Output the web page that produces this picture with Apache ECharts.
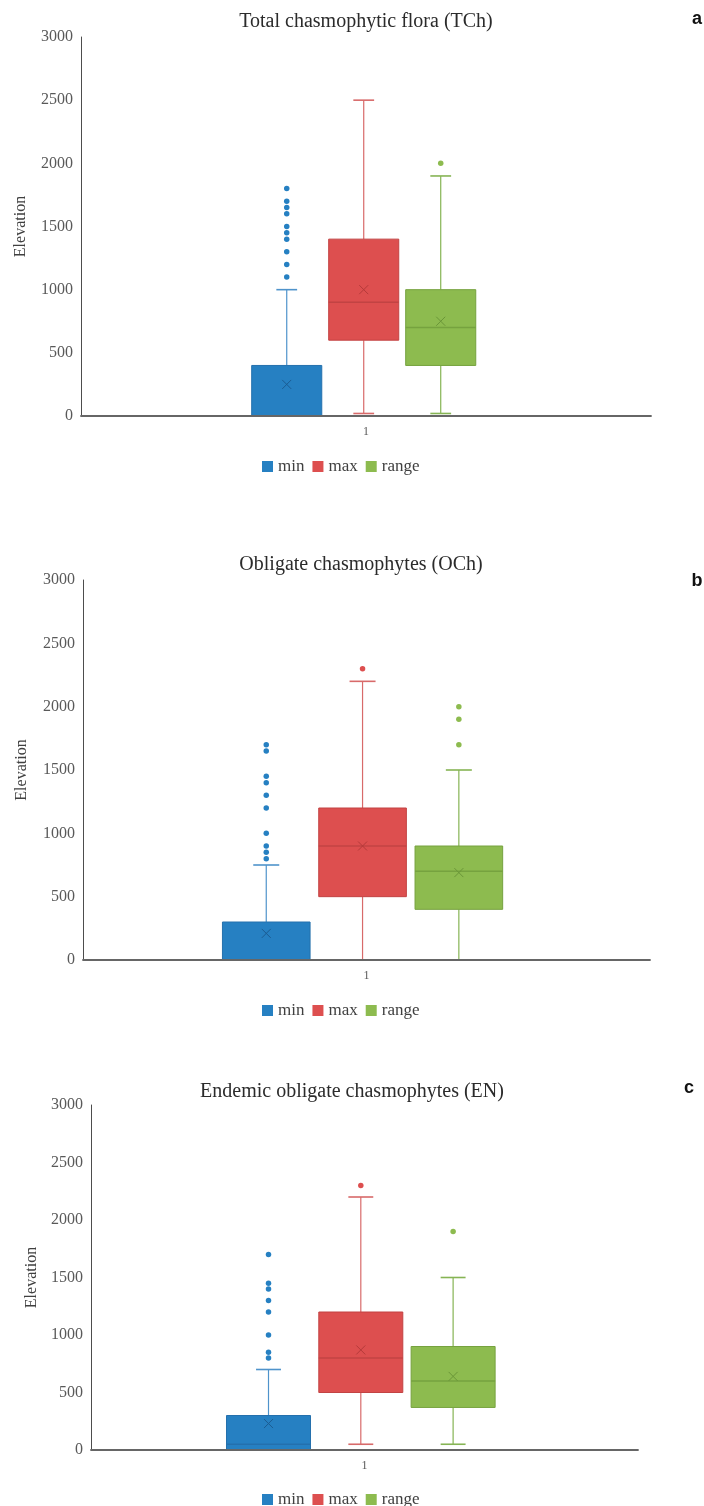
<!DOCTYPE html>
<html>
<head>
<meta charset="utf-8">
<script src="https://cdn.jsdelivr.net/npm/echarts@6/dist/echarts.min.js"></script>
<style>
  html, body { margin: 0; padding: 0; background: #ffffff; }
  #chart { width: 704px; height: 1506px; }
</style>
</head>
<body>
<div id="chart"></div>
<script>
// ---- data -------------------------------------------------------------
const groups = ['min', 'max', 'range'];
const categories = ['1'];
const yTicks = [0, 500, 1000, 1500, 2000, 2500, 3000];

// five-number summaries: [lower whisker, Q1, median, Q3, upper whisker]
// Total chasmophytic flora (TCh)
const tchMin   = [0, 0, 0, 400, 1000];
const tchMax   = [20, 600, 900, 1400, 2500];
const tchRange = [20, 400, 700, 1000, 1900];
const tchMeans = [250, 1000, 750];
const tchMinOut   = [1100, 1200, 1300, 1400, 1450, 1500, 1600, 1650, 1700, 1800];
const tchMaxOut   = [];
const tchRangeOut = [2000];

// Obligate chasmophytes (OCh)
const ochMin   = [0, 0, 0, 300, 750];
const ochMax   = [0, 500, 900, 1200, 2200];
const ochRange = [0, 400, 700, 900, 1500];
const ochMeans = [210, 900, 690];
const ochMinOut   = [800, 850, 900, 1000, 1200, 1300, 1400, 1450, 1650, 1700];
const ochMaxOut   = [2300];
const ochRangeOut = [1700, 1900, 2000];

// Endemic obligate chasmophytes (EN)
const enMin   = [0, 0, 50, 300, 700];
const enMax   = [50, 500, 800, 1200, 2200];
const enRange = [50, 370, 600, 900, 1500];
const enMeans = [230, 870, 640];
const enMinOut   = [800, 850, 1000, 1200, 1300, 1400, 1450, 1700];
const enMaxOut   = [2300];
const enRangeOut = [1900];

// ---- styling & layout -----------------------------------------------
const SERIF = 'Liberation Serif';
const COLORS = {
  min:   { fill: '#2680c2', edge: '#2470ad', whisker: '#4f93cb', mark: '#1b5c92' },
  max:   { fill: '#dd4f4f', edge: '#c24343', whisker: '#d86a6a', mark: '#b53a3a' },
  range: { fill: '#8dbb4f', edge: '#76a23f', whisker: '#86b454', mark: '#6a9638' }
};
const BOX_W = 0.91;   // box width in slot units
const CAP_W = 0.27;   // whisker cap width in slot units

const panels = [
  {
    title: 'Total chasmophytic flora (TCh)', tag: 'a',
    boxes: [tchMin, tchMax, tchRange], means: tchMeans,
    outliers: [tchMinOut, tchMaxOut, tchRangeOut],
    grid: { left: 81, top: 37, width: 570, height: 379 },
    slotRange: [-3.672, 3.731], nameGap: 52,
    titlePos: [366, 12], tagPos: [697, 10], legendTop: 453
  },
  {
    title: 'Obligate chasmophytes (OCh)', tag: 'b',
    boxes: [ochMin, ochMax, ochRange], means: ochMeans,
    outliers: [ochMinOut, ochMaxOut, ochRangeOut],
    grid: { left: 83, top: 580, width: 567, height: 380 },
    slotRange: [-2.903, 2.985], nameGap: 53,
    titlePos: [361, 555], tagPos: [697, 572], legendTop: 997
  },
  {
    title: 'Endemic obligate chasmophytes (EN)', tag: 'c',
    boxes: [enMin, enMax, enRange], means: enMeans,
    outliers: [enMinOut, enMaxOut, enRangeOut],
    grid: { left: 91, top: 1105, width: 547, height: 345 },
    slotRange: [-2.923, 3.003], nameGap: 50,
    titlePos: [352, 1082], tagPos: [689, 1079], legendTop: 1486
  }
];

// ---- box renderer ------------------------------------------------------
function makeBoxRenderer(col) {
  return function (params, api) {
    const x = api.value(0);
    const lo = api.value(1), q1 = api.value(2), med = api.value(3);
    const q3 = api.value(4), hi = api.value(5), mean = api.value(6);
    const tl = api.coord([x - BOX_W / 2, q3]);
    const br = api.coord([x + BOX_W / 2, q1]);
    const cx = api.coord([x, med])[0];
    const yMed = api.coord([x, med])[1];
    const yLo = api.coord([x, lo])[1];
    const yHi = api.coord([x, hi])[1];
    const capL = api.coord([x - CAP_W / 2, hi])[0];
    const capR = api.coord([x + CAP_W / 2, hi])[0];
    const m = api.coord([x, mean]);
    const k = 4.5;
    const wStyle = { stroke: col.whisker, lineWidth: 1.2 };
    const children = [
      { type: 'line', shape: { x1: cx, y1: yHi, x2: cx, y2: tl[1] }, style: wStyle },
      { type: 'line', shape: { x1: cx, y1: br[1], x2: cx, y2: yLo }, style: wStyle },
      { type: 'line', shape: { x1: capL, y1: yHi, x2: capR, y2: yHi }, style: { stroke: col.whisker, lineWidth: 1.6 } },
      { type: 'line', shape: { x1: capL, y1: yLo, x2: capR, y2: yLo }, style: { stroke: col.whisker, lineWidth: 1.6 } },
      { type: 'rect', shape: { x: tl[0], y: tl[1], width: br[0] - tl[0], height: br[1] - tl[1] },
        style: { fill: col.fill, stroke: col.edge, lineWidth: 1 } },
      { type: 'line', shape: { x1: tl[0], y1: yMed, x2: br[0], y2: yMed }, style: { stroke: col.edge, lineWidth: 1.5 } },
      { type: 'line', shape: { x1: m[0] - k, y1: m[1] - k, x2: m[0] + k, y2: m[1] + k }, style: { stroke: col.mark, lineWidth: 1 } },
      { type: 'line', shape: { x1: m[0] - k, y1: m[1] + k, x2: m[0] + k, y2: m[1] - k }, style: { stroke: col.mark, lineWidth: 1 } }
    ];
    return { type: 'group', children: children };
  };
}

// ---- option assembly ----------------------------------------------------
const option = {
  animation: false,
  backgroundColor: '#ffffff',
  textStyle: { fontFamily: SERIF },
  title: [], grid: [], xAxis: [], yAxis: [], legend: [], series: []
};

panels.forEach(function (p, pi) {
  option.title.push({
    text: p.title, left: p.titlePos[0], top: p.titlePos[1], textAlign: 'center', padding: 0,
    textStyle: { fontFamily: SERIF, fontSize: 20, fontWeight: 'normal', color: '#2b2b2b' }
  });
  option.title.push({
    text: p.tag, left: p.tagPos[0], top: p.tagPos[1], textAlign: 'center', padding: 0,
    textStyle: { fontFamily: 'Liberation Sans', fontSize: 18, fontWeight: 'bold', color: '#111' }
  });
  option.grid.push(Object.assign({ containLabel: false }, p.grid));

  // visible category axis
  option.xAxis.push({
    type: 'category', gridIndex: pi, data: categories, z: 5,
    axisLine: { show: true, onZero: false, lineStyle: { color: '#666666', width: 1.8 } },
    axisTick: { show: false },
    axisLabel: { color: '#595959', fontSize: 12, margin: 10, fontFamily: SERIF },
    splitLine: { show: false }
  });
  // hidden slot axis that places the three boxes side by side
  option.xAxis.push({
    type: 'value', gridIndex: pi, show: false,
    min: p.slotRange[0], max: p.slotRange[1],
    axisLine: { onZero: false }
  });
  option.yAxis.push({
    type: 'value', gridIndex: pi,
    min: yTicks[0], max: yTicks[yTicks.length - 1], interval: yTicks[1] - yTicks[0],
    name: 'Elevation', nameLocation: 'middle', nameGap: p.nameGap,
    nameTextStyle: { fontFamily: SERIF, fontSize: 16, color: '#404040' },
    axisLine: { show: true, onZero: false, lineStyle: { color: '#4d4d4d', width: 1 } },
    axisTick: { show: false },
    axisLabel: {
      color: '#595959', fontSize: 16, margin: 8, fontFamily: SERIF,
      formatter: function (v) { return String(v); }
    },
    splitLine: { show: false }
  });
  option.legend.push({
    data: groups, left: 257, top: p.legendTop, icon: 'rect',
    itemWidth: 11, itemHeight: 11, itemGap: 8, selectedMode: false,
    textStyle: { fontFamily: SERIF, fontSize: 17, color: '#404040' }
  });

  groups.forEach(function (g, gi) {
    const col = COLORS[g];
    const slot = gi - 1;
    const b = p.boxes[gi];
    option.series.push({
      type: 'custom', name: g, xAxisIndex: pi * 2 + 1, yAxisIndex: pi, z: 2,
      itemStyle: { color: col.fill },
      renderItem: makeBoxRenderer(col),
      encode: { x: 0, y: [1, 2, 3, 4, 5] },
      data: [[slot, b[0], b[1], b[2], b[3], b[4], p.means[gi]]]
    });
    option.series.push({
      type: 'scatter', name: g, xAxisIndex: pi * 2 + 1, yAxisIndex: pi, z: 3,
      symbol: 'circle', symbolSize: 5.5,
      itemStyle: { color: col.fill, opacity: 1 },
      data: p.outliers[gi].map(function (v) { return [slot, v]; })
    });
  });
});

const chart = echarts.init(document.getElementById('chart'), null, { renderer: 'canvas' });
chart.setOption(option);
</script>
</body>
</html>
